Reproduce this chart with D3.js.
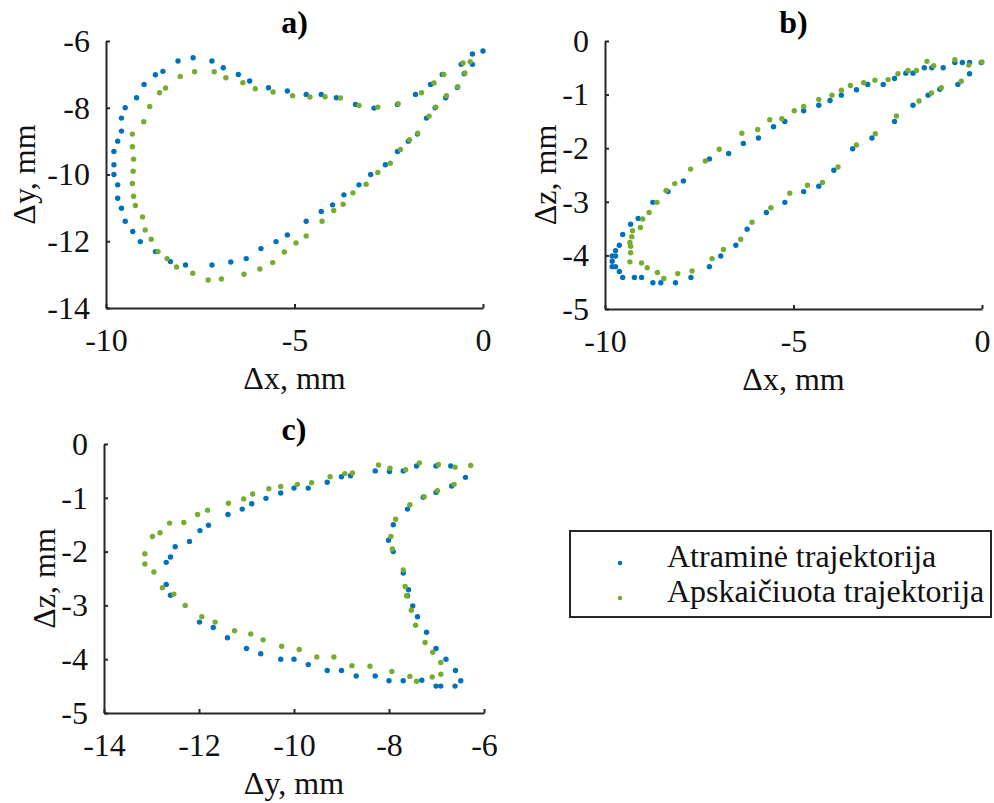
<!DOCTYPE html>
<html>
<head>
<meta charset="utf-8">
<script src="https://cdn.jsdelivr.net/npm/d3@7"></script>
<style>
  html, body { margin: 0; padding: 0; background: #fff; }
  svg { display: block; }
  svg text { font-family: "Liberation Serif", "DejaVu Serif", "Times New Roman", Times, serif; }
</style>
</head>
<body>
<svg id="chart" width="994" height="803"></svg>
<script>
// Reference trajectory (Atraminė) and computed trajectory (Apskaičiuota), mm.
// Panel a: Δx vs Δy
const refXY = [
  [-9.49,-8.00],[-9.19,-7.70],[-8.99,-7.30],[-8.69,-7.01],[-8.49,-6.91],[-8.09,-6.60],[-7.69,-6.50],
  [-7.19,-6.60],[-6.89,-6.80],[-6.49,-7.00],[-6.19,-7.20],[-5.69,-7.40],[-5.19,-7.50],[-4.69,-7.60],
  [-4.29,-7.60],[-3.89,-7.70],[-3.38,-7.90],[-2.89,-8.01],[-2.27,-7.90],[-1.79,-7.60],[-1.39,-7.30],
  [-1.08,-7.00],[-0.58,-6.70],[-0.28,-6.39],[0.00,-6.30],
  [-0.28,-6.70],[-0.50,-6.98],[-0.68,-7.39],[-0.99,-7.70],[-1.27,-8.00],[-1.50,-8.31],[-1.74,-8.79],
  [-1.98,-9.00],[-2.27,-9.31],[-2.59,-9.71],[-2.98,-10.00],[-3.29,-10.31],[-3.69,-10.61],[-3.99,-10.91],
  [-4.29,-11.11],[-4.69,-11.40],[-5.19,-11.81],[-5.49,-12.01],[-5.89,-12.22],[-6.28,-12.52],[-6.69,-12.62],
  [-7.19,-12.71],[-7.89,-12.71],[-8.29,-12.61],[-8.69,-12.31],[-9.09,-12.01],[-9.29,-11.71],[-9.49,-11.40],
  [-9.59,-11.01],[-9.69,-10.71],[-9.69,-10.31],[-9.79,-10.00],[-9.79,-9.71],[-9.79,-9.31],[-9.69,-9.00],
  [-9.59,-8.70],[-9.59,-8.31]
];
const calcXY = [
  [-9.00,-8.42],[-8.84,-7.96],[-8.58,-7.55],[-8.42,-7.41],[-8.03,-7.06],[-7.65,-6.92],[-7.13,-6.92],
  [-6.82,-7.10],[-6.37,-7.25],[-6.04,-7.43],[-5.57,-7.53],[-5.05,-7.64],[-4.59,-7.68],[-4.19,-7.67],
  [-3.78,-7.71],[-3.29,-7.93],[-2.79,-7.98],[-2.25,-7.88],[-1.63,-7.55],[-1.30,-7.26],[-1.04,-7.00],
  [-0.53,-6.66],[-0.34,-6.62],
  [-0.48,-6.96],[-0.67,-7.37],[-0.97,-7.64],[-1.25,-7.98],[-1.43,-8.25],[-1.73,-8.76],[-1.95,-8.96],
  [-2.19,-9.25],[-2.46,-9.66],[-2.79,-9.94],[-3.10,-10.29],[-3.45,-10.55],[-3.71,-10.89],[-3.96,-11.08],
  [-4.27,-11.40],[-4.69,-11.84],[-4.96,-12.05],[-5.27,-12.32],[-5.58,-12.64],[-5.92,-12.83],[-6.34,-12.99],
  [-6.94,-13.13],[-7.29,-13.16],[-7.70,-12.96],[-8.13,-12.77],[-8.38,-12.52],[-8.62,-12.31],[-8.80,-11.94],
  [-8.96,-11.66],[-9.03,-11.27],[-9.22,-10.93],[-9.27,-10.65],[-9.30,-10.27],[-9.28,-9.90],[-9.27,-9.54],
  [-9.30,-9.17],[-9.30,-8.79]
];

// Panel b: Δx vs Δz
const refXZ = [
  [-9.81,-4.01],[-9.72,-3.91],[-9.62,-3.81],[-9.53,-3.61],[-9.32,-3.42],[-9.12,-3.31],[-8.73,-3.01],
  [-8.33,-2.81],[-7.92,-2.61],[-7.23,-2.20],[-6.72,-2.10],[-6.33,-1.91],[-5.93,-1.81],[-5.53,-1.60],
  [-5.23,-1.50],[-4.73,-1.30],[-4.33,-1.20],[-4.03,-1.11],[-3.73,-1.01],[-3.33,-0.91],[-3.03,-0.81],
  [-2.62,-0.81],[-2.32,-0.70],[-2.02,-0.60],[-1.83,-0.60],[-1.53,-0.50],[-1.33,-0.50],[-1.03,-0.50],
  [-0.72,-0.40],[-0.52,-0.40],[-0.33,-0.40],[-0.02,-0.40],
  [-0.33,-0.61],[-0.64,-0.81],[-1.12,-0.90],[-1.43,-1.01],[-1.83,-1.20],[-2.32,-1.50],[-2.92,-1.81],
  [-3.43,-2.01],[-3.93,-2.41],[-4.33,-2.71],[-4.73,-2.81],[-5.23,-3.01],[-5.72,-3.20],[-6.23,-3.51],
  [-6.53,-3.81],[-6.93,-4.01],[-7.23,-4.21],[-7.72,-4.41],[-8.13,-4.51],[-8.52,-4.51],[-8.73,-4.51],
  [-9.03,-4.41],[-9.22,-4.41],[-9.53,-4.41],[-9.62,-4.30],[-9.72,-4.21],[-9.81,-4.21],[-9.81,-4.11],
  [-9.72,-4.01]
];
const calcXZ = [
  [-9.27,-3.54],[-9.06,-3.48],[-9.00,-3.32],[-8.83,-3.20],[-8.62,-3.01],[-8.38,-2.79],[-8.15,-2.66],
  [-7.73,-2.39],[-7.34,-2.24],[-6.97,-2.02],[-6.37,-1.72],[-5.95,-1.65],[-5.63,-1.47],[-5.31,-1.45],
  [-4.98,-1.30],[-4.73,-1.22],[-4.33,-1.09],[-3.98,-1.01],[-3.73,-0.92],[-3.49,-0.83],[-3.14,-0.78],
  [-2.84,-0.73],[-2.49,-0.72],[-2.23,-0.61],[-1.96,-0.55],[-1.74,-0.55],[-1.46,-0.38],[-1.28,-0.46],
  [-0.72,-0.35],[-0.35,-0.45],[0.00,-0.39],
  [-0.55,-0.75],[-1.08,-0.87],[-1.34,-0.97],[-1.67,-1.12],[-2.27,-1.40],[-2.83,-1.73],[-3.33,-1.94],
  [-3.82,-2.35],[-4.23,-2.64],[-4.63,-2.69],[-5.10,-2.84],[-5.60,-3.11],[-6.10,-3.38],[-6.40,-3.70],
  [-6.86,-3.89],[-7.16,-4.06],[-7.69,-4.29],[-8.07,-4.34],[-8.44,-4.43],[-8.61,-4.32],[-8.88,-4.23],
  [-9.03,-4.14],[-9.34,-4.12],[-9.32,-3.95],[-9.32,-3.83],[-9.34,-3.76],[-9.29,-3.65]
];

// Panel c: Δy vs Δz
const refYZ = [
  [-12.60,-2.81],[-12.69,-2.61],[-12.69,-2.20],[-12.60,-2.10],[-12.50,-1.91],[-12.20,-1.81],[-11.98,-1.61],
  [-11.80,-1.51],[-11.39,-1.31],[-11.09,-1.21],[-10.89,-1.11],[-10.59,-1.01],[-10.28,-0.91],[-10.00,-0.82],
  [-9.70,-0.82],[-9.30,-0.71],[-9.00,-0.61],[-8.81,-0.59],[-8.29,-0.50],[-7.99,-0.51],[-7.70,-0.50],
  [-7.42,-0.41],[-7.01,-0.41],[-6.70,-0.41],[-6.39,-0.62],
  [-6.68,-0.78],[-7.01,-0.90],[-7.28,-0.99],[-7.61,-1.21],[-7.91,-1.50],[-8.01,-1.79],[-7.91,-2.00],
  [-7.70,-2.40],[-7.59,-2.71],[-7.61,-2.82],[-7.50,-3.01],[-7.40,-3.21],[-7.21,-3.50],[-7.01,-3.80],
  [-6.80,-4.00],[-6.60,-4.21],[-6.49,-4.40],[-6.61,-4.50],[-6.91,-4.50],[-7.01,-4.50],[-7.31,-4.39],
  [-7.70,-4.40],[-8.00,-4.40],[-8.29,-4.31],[-8.69,-4.31],[-9.00,-4.21],[-9.30,-4.21],[-9.70,-4.10],
  [-10.00,-4.00],[-10.28,-4.00],[-10.70,-3.90],[-11.00,-3.80],[-11.40,-3.60],[-11.70,-3.41],[-11.99,-3.31]
];
const calcYZ = [
  [-12.95,-2.38],[-13.14,-2.23],[-13.14,-2.04],[-12.98,-1.72],[-12.82,-1.65],[-12.62,-1.47],[-12.32,-1.46],
  [-12.03,-1.31],[-11.82,-1.23],[-11.38,-1.10],[-11.06,-1.02],[-10.87,-0.93],[-10.53,-0.83],[-10.28,-0.79],
  [-9.93,-0.75],[-9.63,-0.72],[-9.24,-0.61],[-8.93,-0.55],[-8.77,-0.54],[-8.22,-0.39],[-7.98,-0.45],
  [-7.65,-0.48],[-7.36,-0.35],[-6.96,-0.38],[-6.61,-0.43],[-6.28,-0.40],
  [-6.63,-0.75],[-6.98,-0.87],[-7.26,-0.98],[-7.56,-1.13],[-7.86,-1.40],[-7.96,-1.72],[-7.93,-1.95],
  [-7.70,-2.34],[-7.66,-2.65],[-7.63,-2.82],[-7.53,-3.09],[-7.44,-3.37],[-7.24,-3.69],[-7.08,-3.87],
  [-6.91,-4.06],[-6.91,-4.28],[-7.09,-4.33],[-7.42,-4.41],[-7.56,-4.32],[-7.94,-4.23],[-8.40,-4.13],
  [-8.78,-4.12],[-9.16,-3.96],[-9.52,-3.96],[-9.89,-3.82],[-10.26,-3.76],[-10.65,-3.64],[-10.91,-3.53],
  [-11.25,-3.47],[-11.66,-3.31],[-11.94,-3.21],[-12.29,-3.00],[-12.53,-2.79],[-12.77,-2.67]
];

// Axis ticks
const ticksA_x = [-10, -5, 0];
const ticksA_y = [-14, -12, -10, -8, -6];
const ticksB_x = [-10, -5, 0];
const ticksB_y = [-5, -4, -3, -2, -1, 0];
const ticksC_x = [-14, -12, -10, -8, -6];
const ticksC_y = [-5, -4, -3, -2, -1, 0];

const seriesNames = ["Atraminė trajektorija", "Apskaičiuota trajektorija"];
const seriesColors = ["#0072BD", "#77AC30"];

const FONT = 32;
const SERIF = "Liberation Serif, DejaVu Serif, serif";
const AXIS_COLOR = "#262626";
const R = 2.7;

const svg = d3.select("#chart");

const panels = [
  { title: "a)", ref: refXY, calc: calcXY, xDom: [-10, 0], yDom: [-14, -6],
    xr: [106, 483], yr: [308, 41], xt: ticksA_x, yt: ticksA_y,
    xl: "Δx, mm", yl: "Δy, mm", ylX: 35, titleY: 33 },
  { title: "b)", ref: refXZ, calc: calcXZ, xDom: [-10, 0], yDom: [-5, 0],
    xr: [605, 982], yr: [309, 41], xt: ticksB_x, yt: ticksB_y,
    xl: "Δx, mm", yl: "Δz, mm", ylX: 556, titleY: 33 },
  { title: "c)", ref: refYZ, calc: calcYZ, xDom: [-14, -6], yDom: [-5, 0],
    xr: [104, 484], yr: [713, 444], xt: ticksC_x, yt: ticksC_y,
    xl: "Δy, mm", yl: "Δz, mm", ylX: 55, titleY: 440 }
];

panels.forEach(p => {
  const x = d3.scaleLinear().domain(p.xDom).range(p.xr);
  const y = d3.scaleLinear().domain(p.yDom).range(p.yr);
  const g = svg.append("g");

  // bottom axis, ticks pointing inward
  const gx = g.append("g")
    .attr("transform", `translate(0,${p.yr[0]})`)
    .call(d3.axisBottom(x).tickValues(p.xt).tickFormat(d => String(d))
      .tickSizeInner(-4).tickSizeOuter(0).tickPadding(20));
  // left axis
  const gy = g.append("g")
    .attr("transform", `translate(${p.xr[0]},0)`)
    .call(d3.axisLeft(y).tickValues(p.yt).tickFormat(d => String(d))
      .tickSizeInner(-4).tickSizeOuter(0).tickPadding(16));

  [gx, gy].forEach(ax => {
    ax.attr("font-family", SERIF).attr("font-size", FONT);
    ax.select(".domain").attr("stroke", AXIS_COLOR).attr("stroke-width", 2);
    ax.selectAll(".tick line").attr("stroke", AXIS_COLOR).attr("stroke-width", 2);
    ax.selectAll(".tick text").attr("fill", "#111");
  });

  // markers: reference first, computed on top
  [p.ref, p.calc].forEach((data, i) => {
    g.append("g").selectAll("circle").data(data).join("circle")
      .attr("cx", d => x(d[0]))
      .attr("cy", d => y(d[1]))
      .attr("r", R)
      .attr("fill", seriesColors[i]);
  });

  // title
  g.append("text")
    .attr("x", (p.xr[0] + p.xr[1]) / 2)
    .attr("y", p.titleY)
    .attr("text-anchor", "middle")
    .attr("font-family", SERIF)
    .attr("font-weight", "bold")
    .attr("font-size", FONT)
    .attr("fill", "#000")
    .text(p.title);

  // axis labels
  g.append("text")
    .attr("x", (p.xr[0] + p.xr[1]) / 2)
    .attr("y", p.yr[0] + 81)
    .attr("text-anchor", "middle")
    .attr("font-family", SERIF)
    .attr("font-size", FONT)
    .attr("fill", "#111")
    .text(p.xl);

  g.append("text")
    .attr("transform", `translate(${p.ylX},${(p.yr[0] + p.yr[1]) / 2}) rotate(-90)`)
    .attr("text-anchor", "middle")
    .attr("font-family", SERIF)
    .attr("font-size", FONT)
    .attr("fill", "#111")
    .text(p.yl);
});

// legend
const lg = svg.append("g");
lg.append("rect")
  .attr("x", 570).attr("y", 531).attr("width", 421).attr("height", 86)
  .attr("fill", "#fff").attr("stroke", AXIS_COLOR).attr("stroke-width", 2);
seriesNames.forEach((name, i) => {
  const cy = 563 + i * 35;
  lg.append("circle").attr("cx", 620).attr("cy", cy).attr("r", R - 0.4).attr("fill", seriesColors[i]);
  lg.append("text")
    .attr("x", 667).attr("y", cy + 4)
    .attr("font-family", SERIF)
    .attr("font-size", FONT)
    .attr("fill", "#111")
    .text(name);
});
</script>
</body>
</html>
